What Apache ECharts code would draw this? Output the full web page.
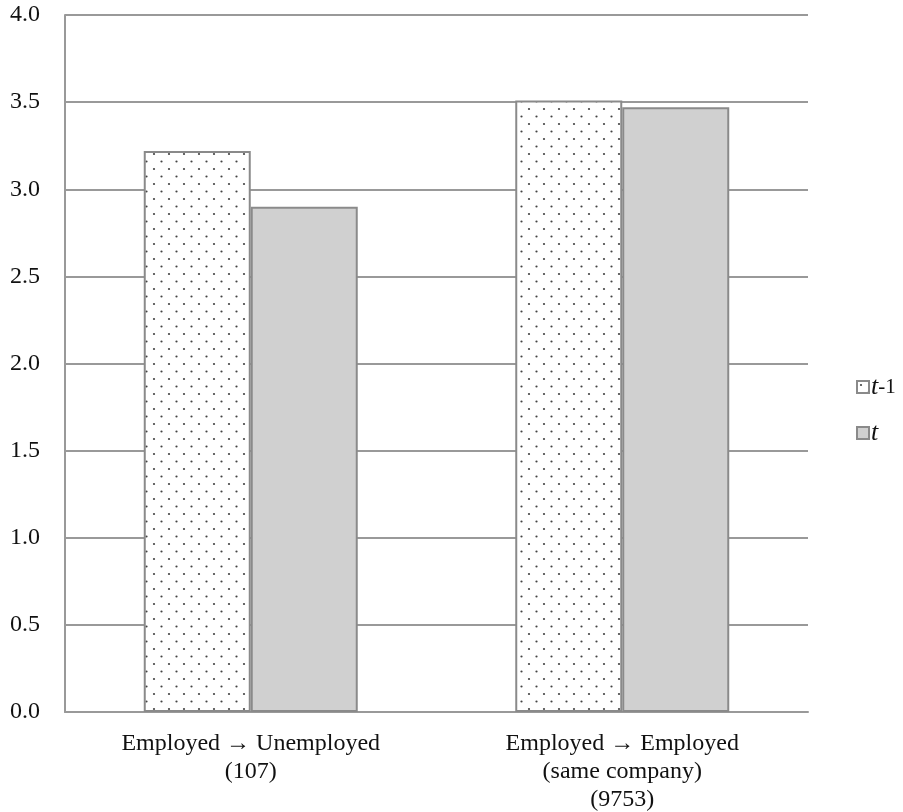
<!DOCTYPE html>
<html>
<head>
<meta charset="utf-8">
<script src="https://cdn.jsdelivr.net/npm/echarts@6/dist/echarts.min.js"></script>
<style>
  html, body { margin: 0; padding: 0; background: #fff; }
  #chart { width: 903px; height: 812px; }
</style>
</head>
<body>
<div id="chart"></div>
<script>
// Transition groups and mean scores at the two survey waves
const categories = ['Employed \u2192 Unemployed\n(107)', 'Employed \u2192 Employed\n(same company)\n(9753)'];
const seriesNames = ['t-1', 't'];
const prevWave = [3.22, 3.51];
const currWave = [2.90, 3.47];
const yTicks = [0, 0.5, 1.0, 1.5, 2.0, 2.5, 3.0, 3.5, 4.0];

// Dotted fill for the earlier wave
function dotPattern() {
  const c = document.createElement('canvas');
  c.width = 15; c.height = 15;
  const ctx = c.getContext('2d');
  ctx.fillStyle = '#ffffff';
  ctx.fillRect(0, 0, 15, 15);
  ctx.fillStyle = '#444444';
  ctx.beginPath(); ctx.arc(4, 4, 1.1, 0, Math.PI * 2); ctx.fill();
  ctx.beginPath(); ctx.arc(11.5, 11.5, 1.1, 0, Math.PI * 2); ctx.fill();
  return c;
}

const serif = '"Liberation Serif", "DejaVu Serif", serif';
const chart = echarts.init(document.getElementById('chart'));
chart.setOption({
  animation: false,
  backgroundColor: '#ffffff',
  grid: { left: 65, right: 95, top: 15, bottom: 100, containLabel: false, outerBoundsMode: 'none' },
  legend: {
    orient: 'vertical',
    left: 851,
    top: 369,
    itemWidth: 12,
    itemHeight: 12,
    itemGap: 20,
    icon: 'rect',
    data: seriesNames,
    formatter: function (name) {
      return name === 't-1' ? '{i|t}{n|-1}' : '{i|t}';
    },
    textStyle: {
      fontFamily: serif,
      color: '#111',
      padding: [0, 0, 0, -3],
      rich: {
        i: { fontFamily: serif, fontStyle: 'italic', fontSize: 26, color: '#111' },
        n: { fontFamily: serif, fontSize: 21, color: '#111' }
      }
    }
  },
  xAxis: {
    type: 'category',
    data: categories,
    axisTick: { show: false },
    axisLine: { lineStyle: { color: '#999', width: 2 } },
    axisLabel: {
      fontFamily: serif,
      fontSize: 24,
      color: '#111',
      lineHeight: 28,
      margin: 18
    }
  },
  yAxis: {
    type: 'value',
    min: yTicks[0],
    max: yTicks[yTicks.length - 1],
    interval: 0.5,
    axisLine: { show: true, lineStyle: { color: '#999', width: 2 } },
    axisTick: { show: false },
    splitLine: { lineStyle: { color: '#999', width: 2 } },
    axisLabel: {
      fontFamily: serif,
      fontSize: 24,
      color: '#111',
      margin: 25,
      formatter: v => v.toFixed(1)
    }
  },
  series: [
    {
      name: seriesNames[0],
      type: 'bar',
      data: prevWave,
      barWidth: 107,
      barGap: '0%',
      itemStyle: {
        color: { image: dotPattern(), repeat: 'repeat' },
        borderColor: '#8a8a8a',
        borderWidth: 2
      }
    },
    {
      name: seriesNames[1],
      type: 'bar',
      data: currWave,
      barWidth: 107,
      barGap: '0%',
      itemStyle: {
        color: '#d0d0d0',
        borderColor: '#8a8a8a',
        borderWidth: 2
      }
    }
  ]
});
</script>
</body>
</html>
